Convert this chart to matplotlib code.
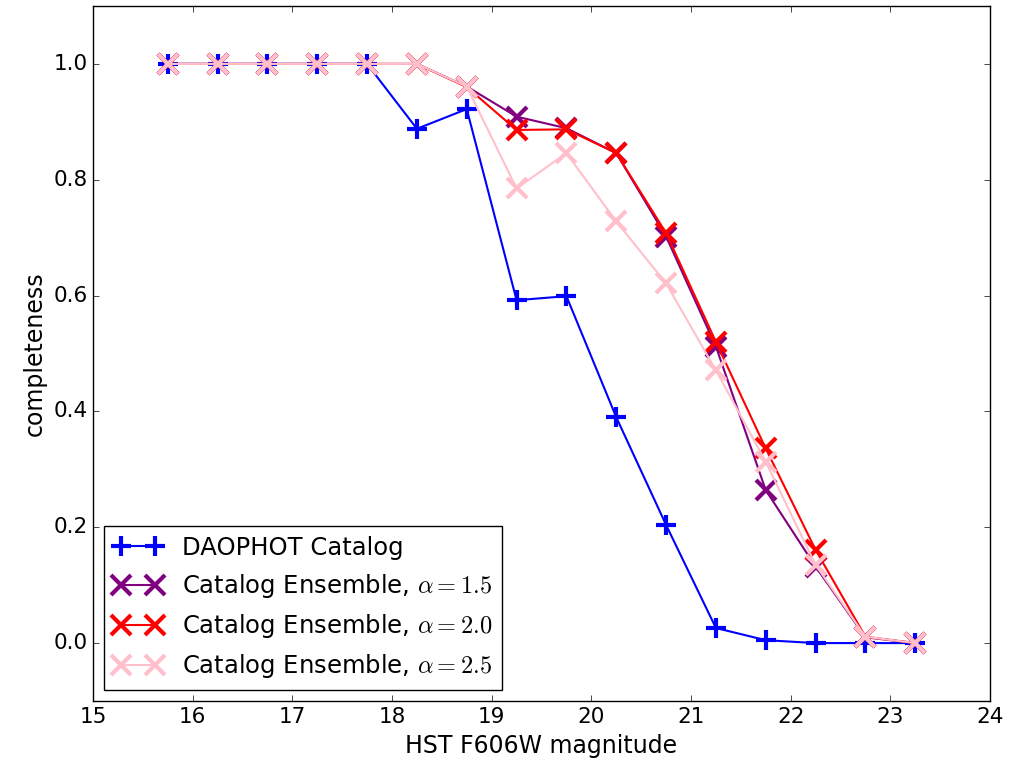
import matplotlib
matplotlib.use("Agg")
import matplotlib.pyplot as plt

plt.style.use("classic")
plt.rcParams["figure.facecolor"] = "white"
plt.rcParams["savefig.facecolor"] = "white"
plt.rcParams["font.size"] = 15.5

mag = [15.75, 16.25, 16.75, 17.25, 17.75, 18.25, 18.75, 19.25, 19.75,
       20.25, 20.75, 21.25, 21.75, 22.25, 22.75, 23.25]
daophot = [1.0, 1.0, 1.0, 1.0, 1.0, 0.888, 0.922, 0.592, 0.599,
           0.390, 0.204, 0.026, 0.005, 0.0, 0.0, 0.0]
ens_15 = [1.0, 1.0, 1.0, 1.0, 1.0, 1.0, 0.961, 0.909, 0.889,
          0.846, 0.702, 0.512, 0.264, 0.132, 0.010, 0.0]
ens_20 = [1.0, 1.0, 1.0, 1.0, 1.0, 1.0, 0.960, 0.886, 0.887,
          0.846, 0.708, 0.520, 0.336, 0.161, 0.011, 0.0]
ens_25 = [1.0, 1.0, 1.0, 1.0, 1.0, 1.0, 0.961, 0.785, 0.846,
          0.728, 0.621, 0.471, 0.313, 0.135, 0.011, 0.0]

fig = plt.figure(figsize=(10.1, 7.74), dpi=100)
ax = fig.add_axes([93 / 1010, 1 - 701 / 774, (990 - 93) / 1010, (701 - 6) / 774])

ax.plot(mag, daophot, "-+", color="blue", ms=14, mew=3, lw=1.5, label="DAOPHOT Catalog")
ax.plot(mag, ens_15, "-x", color="purple", ms=14, mew=3, lw=1.5,
        label=r"Catalog Ensemble, $\alpha=1.5$")
ax.plot(mag, ens_20, "-x", color="red", ms=14, mew=3, lw=1.5,
        label=r"Catalog Ensemble, $\alpha=2.0$")
ax.plot(mag, ens_25, "-x", color="pink", ms=14, mew=3, lw=1.5,
        label=r"Catalog Ensemble, $\alpha=2.5$")

ax.set_xlim(15, 24)
ax.set_ylim(-0.1, 1.1)
ax.set_xticks(range(15, 25))
ax.set_yticks([0.0, 0.2, 0.4, 0.6, 0.8, 1.0])
ax.tick_params(labelsize=15.5)
ax.set_xlabel("HST F606W magnitude", fontsize=17)
ax.set_ylabel("completeness", fontsize=17)
ax.legend(loc="lower left", numpoints=2, fontsize=17.5, handlelength=2.0,
          borderaxespad=0.45)

fig.savefig("out.png", dpi=100)
